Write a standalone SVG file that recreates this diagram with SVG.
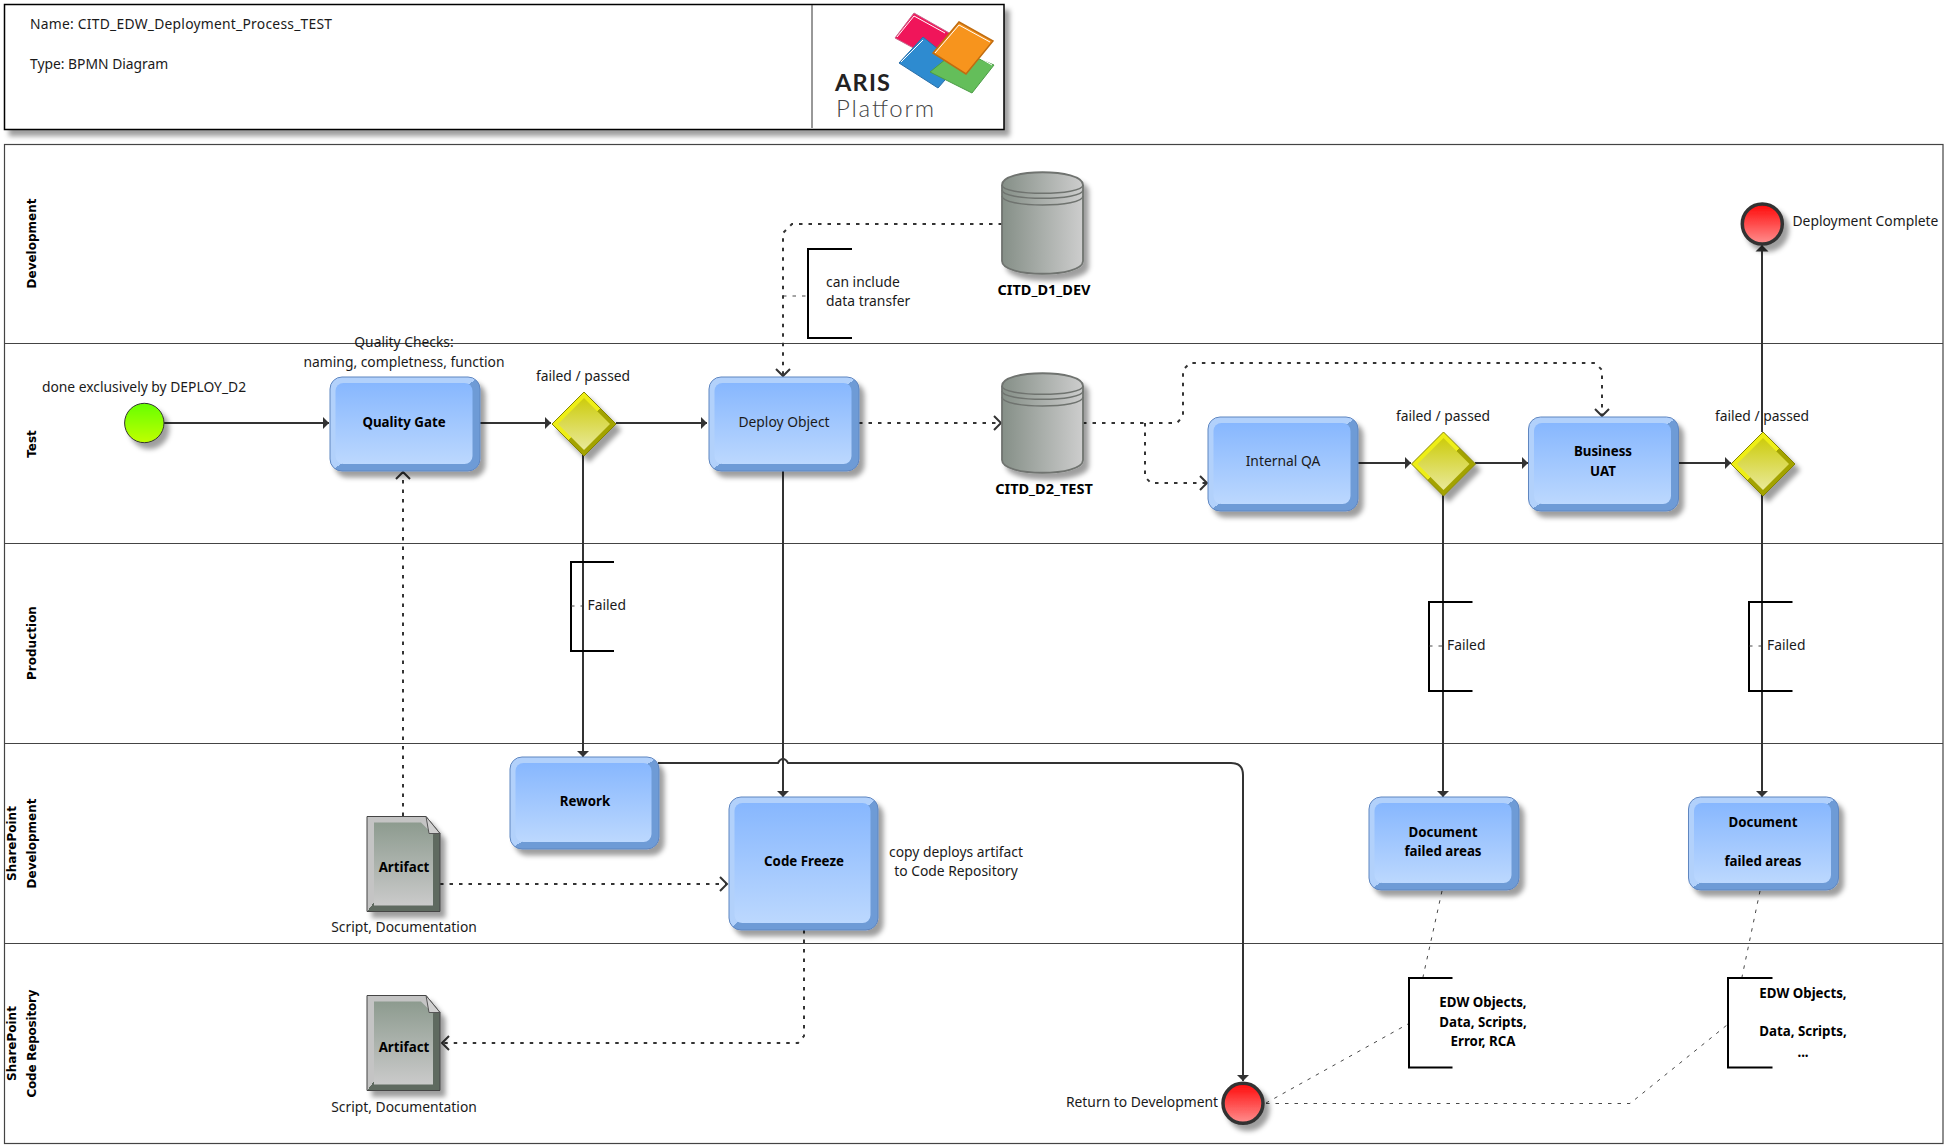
<svg xmlns="http://www.w3.org/2000/svg" width="1949" height="1148" viewBox="0 0 1949 1148">
<style>
text{font-family:"Noto Sans","Open Sans","Liberation Sans",sans-serif;font-size:13.850px;fill:#1a1a1a}
.c{text-anchor:middle}
.b{font-weight:700;fill:#000;font-size:13.300px}
.db{font-size:14.500px}
.lane{font-family:"DejaVu Sans",sans-serif;font-weight:700;font-size:12px;fill:#000;text-anchor:middle}
.lanes line,.lanes rect{stroke:#444;stroke-width:1.200;fill:none}
.outer{fill:url(#taskBevel);stroke:#5f86c0;stroke-width:1;filter:url(#sh)}
.inner{fill:url(#taskFill)}
.dOuter{fill:url(#gwBevel);stroke:#858500;stroke-width:1;filter:url(#sh)}
.dInner{fill:url(#gwFill)}
.brk{fill:none;stroke:#000;stroke-width:2}
.flow{fill:none;stroke:#333;stroke-width:2;marker-end:url(#solid)}
.dot{fill:none;stroke:#333;stroke-width:2;stroke-dasharray:3.500 6;marker-end:url(#open)}
.assoc{fill:none;stroke:#333;stroke-width:.900;stroke-dasharray:3.500 6}
.cyl{fill:url(#cylFill);stroke:#6f736f;stroke-width:1.800}
.cylL{fill:none;stroke:#6f736f;stroke-width:1.500}
</style>
<defs>
<filter id="sh" x="-20%" y="-20%" width="150%" height="150%"><feDropShadow dx="5" dy="6" stdDeviation="2.800" flood-color="#000" flood-opacity=".38"/></filter>
<linearGradient id="taskBevel" x1="0" y1="0" x2="1" y2="1"><stop offset=".5" stop-color="#b2d1fb"/><stop offset=".5" stop-color="#6e9bd6"/></linearGradient>
<linearGradient id="taskFill" x1="0" y1="0" x2="0" y2="1"><stop offset="0" stop-color="#87b7fe"/><stop offset="1" stop-color="#bcd8fe"/></linearGradient>
<linearGradient id="gwBevel" x1="0" y1="0" x2="1" y2="1"><stop offset=".5" stop-color="#eeee18"/><stop offset=".5" stop-color="#a3a300"/></linearGradient>
<linearGradient id="gwFill" x1="0" y1="0" x2="0" y2="1"><stop offset="0" stop-color="#cdcc0c"/><stop offset="1" stop-color="#e9e99a"/></linearGradient>
<linearGradient id="startFill" x1="0" y1="0" x2="0" y2="1"><stop offset="0" stop-color="#66ff00"/><stop offset="1" stop-color="#c0ff00"/></linearGradient>
<linearGradient id="endFill" x1="0" y1="0" x2="0" y2="1"><stop offset="0" stop-color="#ff0808"/><stop offset="1" stop-color="#ff9090"/></linearGradient>
<linearGradient id="cylFill" x1="0" y1="0" x2="1" y2="0"><stop offset="0" stop-color="#858f87"/><stop offset="1" stop-color="#cdcdcd"/></linearGradient>
<linearGradient id="artBevel" x1="0" y1="0" x2="1" y2="1"><stop offset=".5" stop-color="#c4c4c4"/><stop offset=".5" stop-color="#5f6b60"/></linearGradient>
<linearGradient id="artFill" x1="0" y1="0" x2="0" y2="1"><stop offset="0" stop-color="#8d9b8f"/><stop offset="1" stop-color="#cacaca"/></linearGradient>
<marker id="solid" markerUnits="userSpaceOnUse" markerWidth="8" markerHeight="14" viewBox="0 0 8 14" refX="6.500" refY="7" orient="auto"><path d="M0 .5L6.500 7L0 13.500z" fill="#333"/></marker>
<marker id="open" markerUnits="userSpaceOnUse" markerWidth="10" markerHeight="16" viewBox="0 0 10 16" refX="8" refY="8" orient="auto"><path d="M1 1L8 8L1 15" fill="none" stroke="#333" stroke-width="2"/></marker>
<path id="artBody" d="M0 0H59L73 17V95H0z"/>
</defs>

<g id="header">
<rect x="4.500" y="4.500" width="999.500" height="125" fill="#fff" stroke="#000" stroke-width="1.500" filter="url(#sh)"/>
<line x1="812" y1="5" x2="812" y2="128" stroke="#333"/>
<text x="30" y="28.500" textLength="302">Name: CITD_EDW_Deployment_Process_TEST</text>
<text x="30" y="69">Type: BPMN Diagram</text>
<g id="logo">
<polygon points="914,13 951,34 932,58 895,38" fill="#f0155a" stroke="#c8668c" stroke-width="1"/>
<polyline points="897,37 914,16 945,33" fill="none" stroke="#fff" stroke-width="1"/>
<polygon points="923,37 958,65 938,88 899,63" fill="#2e8bd0" stroke="#2a6ea8" stroke-width="1"/>
<polyline points="901,62 923,40" fill="none" stroke="#fff" stroke-width="1"/>
<polygon points="957,50 994,65 972,93 930,72" fill="#64be5a" stroke="#4c9c46" stroke-width="1"/>
<polyline points="978,57 992,65" fill="none" stroke="#fff" stroke-width="1"/>
<polygon points="959,22 993,41 966,74 933,53" fill="#f7941d" stroke="#c06c10" stroke-width="1.500"/>
<polyline points="935,53 959,25 990,42" fill="none" stroke="#fff" stroke-width="1"/>
<text x="835" y="91" textLength="55" style="font-family:Lato,sans-serif;font-size:23.500px;font-weight:700;fill:#222">ARIS</text>
<text x="836" y="117" textLength="98" style="font-family:Lato,sans-serif;font-size:24px;font-weight:300;fill:#444">Platform</text>
</g>
</g>

<g id="lanes" class="lanes">
<rect x="4.500" y="144.500" width="1938.500" height="999"/>
<line x1="4.500" y1="343.500" x2="1943" y2="343.500"/>
<line x1="4.500" y1="543.500" x2="1943" y2="543.500"/>
<line x1="4.500" y1="743.500" x2="1943" y2="743.500"/>
<line x1="4.500" y1="943.500" x2="1943" y2="943.500"/>
</g>
<g id="lane-labels">
<text class="lane" transform="translate(36 243.500) rotate(-90)">Development</text>
<text class="lane" transform="translate(36 444) rotate(-90)">Test</text>
<text class="lane" transform="translate(36 643) rotate(-90)">Production</text>
<text class="lane" transform="translate(16 843.500) rotate(-90)">SharePoint</text>
<text class="lane" transform="translate(36 843.500) rotate(-90)">Development</text>
<text class="lane" transform="translate(16 1043.500) rotate(-90)">SharePoint</text>
<text class="lane" transform="translate(36 1043.500) rotate(-90)" textLength="108">Code Repository</text>
</g>

<g id="connectors">
<path class="flow" d="M164 423H329"/>
<path class="flow" d="M480 423H551"/>
<path class="flow" d="M616 423H707"/>
<path class="flow" d="M583 455V757"/>
<path class="flow" d="M783 471V797"/>
<path class="flow" d="M658 763H778Q780 759 783 759Q786 759 788 763H1231Q1243 763 1243 775V1081"/>
<path class="dot" d="M859 423H1001"/>
<path class="dot" d="M1002 224H792L783 233V376"/>
<path class="dot" d="M1083 423H1177L1183 416V370L1190 363H1595L1602 370V416"/>
<path class="dot" d="M1145 423V477L1151 483H1207"/>
<path class="dot" d="M403 816V472"/>
<path class="dot" d="M440 884H727"/>
<path class="dot" d="M804 930V1036L798 1043H442"/>
<path class="flow" d="M1358 463H1411"/>
<path class="flow" d="M1475 463H1528"/>
<path class="flow" d="M1678 463H1731"/>
<path class="flow" d="M1443 495V797"/>
<path class="flow" d="M1762 495V797"/>
<path class="flow" d="M1762 432V245"/>
<path class="assoc" d="M1442 891L1423 977"/>
<path class="assoc" d="M1760 891L1742 977"/>
<path class="assoc" d="M1266 1103L1408 1024"/>
<path class="assoc" d="M1266 1103.500H1630L1727 1025"/>
</g>

<g id="note-checks"><text class="c" x="404" y="347">Quality Checks:</text><text class="c" x="404" y="366.500">naming, completness, function</text></g>
<g id="start"><circle cx="144.300" cy="423" r="19.700" fill="url(#startFill)" stroke="#333" filter="url(#sh)"/><text class="c" x="144" y="392">done exclusively by DEPLOY_D2</text></g>
<g id="quality-gate"><rect class="outer" x="330" y="377" width="150" height="94" rx="12"/><rect class="inner" x="335.500" y="383" width="137" height="81" rx="8"/><text class="c b" x="404" y="427">Quality Gate</text></g>
<g id="gw1"><polygon class="dOuter" points="584,392 616,424 584,456 552,424"/><polygon class="dInner" points="584,398 610,424 584,450 558,424"/><text class="c" x="583" y="380.500">failed / passed</text></g>
<g id="deploy"><rect class="outer" x="709" y="377" width="150" height="94" rx="12"/><rect class="inner" x="714.500" y="383" width="137" height="81" rx="8"/><text class="c" x="784" y="427">Deploy Object</text></g>
<g id="d1">
<path class="cyl" filter="url(#sh)" d="M1002 185C1002 168 1083 168 1083 185V261C1083 278 1002 278 1002 261z"/>
<path class="cylL" d="M1002 185C1002 196 1083 196 1083 185M1002 190C1002 201 1083 201 1083 190M1002 196C1002 208 1083 208 1083 196"/>
<text class="c b db" x="1044" y="295">CITD_D1_DEV</text></g>
<g id="d2">
<path class="cyl" filter="url(#sh)" d="M1002 386C1002 369 1083 369 1083 386V460C1083 477 1002 477 1002 460z"/>
<path class="cylL" d="M1002 386C1002 397 1083 397 1083 386M1002 391C1002 402 1083 402 1083 391M1002 397C1002 409 1083 409 1083 397"/>
<text class="c b db" x="1044" y="494">CITD_D2_TEST</text></g>
<g id="qa"><rect class="outer" x="1208" y="417" width="150" height="94" rx="12"/><rect class="inner" x="1213.500" y="423" width="137" height="81" rx="8"/><text class="c" x="1283" y="466">Internal QA</text></g>
<g id="gw2"><polygon class="dOuter" points="1443.500,432 1475.500,464 1443.500,496 1411.500,464"/><polygon class="dInner" points="1443.500,438 1469.500,464 1443.500,490 1417.500,464"/><text class="c" x="1443" y="421">failed / passed</text></g>
<g id="uat"><rect class="outer" x="1528.500" y="417" width="150" height="94" rx="12"/><rect class="inner" x="1534" y="423" width="137" height="81" rx="8"/><text class="c b" x="1603" y="456">Business</text><text class="c b" x="1603" y="476">UAT</text></g>
<g id="gw3"><polygon class="dOuter" points="1763,432 1795,464 1763,496 1731,464"/><polygon class="dInner" points="1763,438 1789,464 1763,490 1737,464"/><text class="c" x="1762" y="421">failed / passed</text></g>
<g id="end-complete"><circle cx="1762.300" cy="224" r="20" fill="url(#endFill)" stroke="#333" stroke-width="3.500" filter="url(#sh)"/><text x="1792.500" y="226">Deployment Complete</text></g>
<g id="rework"><rect class="outer" x="510" y="757" width="149" height="92" rx="12"/><rect class="inner" x="515.500" y="763" width="136" height="79" rx="8"/><text class="c b" x="585" y="806">Rework</text></g>
<g id="freeze"><rect class="outer" x="729" y="797" width="149" height="133" rx="12"/><rect class="inner" x="734.500" y="803" width="136" height="120" rx="8"/><text class="c b" x="804" y="866">Code Freeze</text></g>
<g id="copy-note"><text class="c" x="956" y="857">copy deploys artifact</text><text class="c" x="956" y="875.500">to Code Repository</text></g>
<g id="doc1"><rect class="outer" x="1369" y="797" width="150" height="93" rx="12"/><rect class="inner" x="1374.500" y="803" width="137" height="80" rx="8"/><text class="c b" x="1443" y="837">Document</text><text class="c b" x="1443" y="856">failed areas</text></g>
<g id="doc2"><rect class="outer" x="1688.500" y="797" width="150" height="93" rx="12"/><rect class="inner" x="1694" y="803" width="137" height="80" rx="8"/><text class="c b" x="1763" y="827">Document</text><text class="c b" x="1763" y="866">failed areas</text></g>
<g id="artifact1" transform="translate(367 816.500)">
<use href="#artBody" fill="url(#artBevel)" stroke="#444" filter="url(#sh)"/><path d="M7 6H54L66 18V89H7z" fill="url(#artFill)"/><path d="M59 0L73 17H62z" fill="#d0d0d0" stroke="#555"/><text class="c b" x="37" y="55">Artifact</text><text class="c" x="37" y="115">Script, Documentation</text></g>
<g id="artifact2" transform="translate(367 995.500)">
<use href="#artBody" fill="url(#artBevel)" stroke="#444" filter="url(#sh)"/><path d="M7 6H54L66 18V89H7z" fill="url(#artFill)"/><path d="M59 0L73 17H62z" fill="#d0d0d0" stroke="#555"/><text class="c b" x="37" y="56">Artifact</text><text class="c" x="37" y="116">Script, Documentation</text></g>
<g id="end-return"><circle cx="1243" cy="1103.300" r="20" fill="url(#endFill)" stroke="#333" stroke-width="3.500" filter="url(#sh)"/><text x="1218" y="1107" text-anchor="end">Return to Development</text></g>

<g id="ann-include"><path class="brk" d="M852 249H808V338H852"/><path class="assoc" d="M783 296H808"/><text x="826" y="287">can include</text><text x="826" y="306">data transfer</text></g>
<g id="ann-failed1"><path class="brk" d="M614 562H571V651H614"/><path class="assoc" d="M571 606H586"/><text x="587.500" y="610">Failed</text></g>
<g id="ann-failed2"><path class="brk" d="M1472.500 602H1429V691H1472.500"/><path class="assoc" d="M1429 646H1445"/><text x="1447" y="650">Failed</text></g>
<g id="ann-failed3"><path class="brk" d="M1792.500 602H1749V691H1792.500"/><path class="assoc" d="M1749 646H1765"/><text x="1767" y="650">Failed</text></g>
<g id="ann-edw1"><path class="brk" d="M1452.500 978H1409V1067.500H1452.500"/><text class="c b" x="1483" y="1007">EDW Objects,</text><text class="c b" x="1483" y="1027">Data, Scripts,</text><text class="c b" x="1483" y="1046">Error, RCA</text></g>
<g id="ann-edw2"><path class="brk" d="M1772.500 978H1728V1067.500H1772.500"/><text class="c b" x="1803" y="998">EDW Objects,</text><text class="c b" x="1803" y="1036">Data, Scripts,</text><text class="c b" x="1803" y="1057">...</text></g>
</svg>
